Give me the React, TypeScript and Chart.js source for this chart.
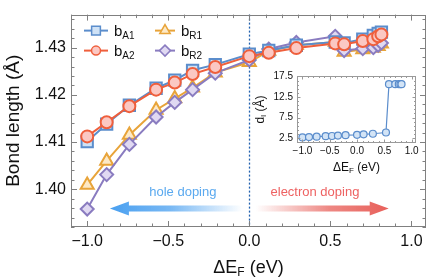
import React, { useEffect, useRef } from 'react';
import { Chart, registerables } from 'chart.js';

Chart.register(...registerables);

const FONT = '"Liberation Sans", Arial, Helvetica, sans-serif';

// ---------- data ----------
const DELTA_EF = [-1.0, -0.88, -0.74, -0.575, -0.46, -0.35, -0.21, 0.0, 0.12, 0.29, 0.53, 0.585, 0.70, 0.765, 0.795, 0.815];
const B_A1 = [1.4101, 1.4138, 1.4178, 1.4214, 1.4231, 1.4252, 1.4264, 1.4286, 1.4294, 1.4305, 1.4312, 1.4310, 1.4318, 1.4326, 1.4330, 1.4333];
const B_A2 = [1.4112, 1.4142, 1.4176, 1.4211, 1.4226, 1.4244, 1.4259, 1.4282, 1.4289, 1.4299, 1.4309, 1.4307, 1.4314, 1.4318, 1.4324, 1.4328];
const B_R1 = [1.4009, 1.4060, 1.4115, 1.4168, 1.4192, 1.4215, 1.4247, 1.4269, 1.4293, 1.4305, 1.4312, 1.4291, 1.4296, 1.4299, 1.4303, 1.4308];
const B_R2 = [1.3958, 1.4031, 1.4095, 1.4153, 1.4184, 1.4211, 1.4246, 1.4274, 1.4297, 1.4311, 1.4324, 1.4294, 1.4298, 1.4300, 1.4305, 1.4310];
const D_I = [2.65, 2.75, 2.85, 2.95, 3.0, 3.1, 3.2, 3.3, 3.4, 3.55, 3.85, 15.6, 15.6, 15.6, 15.6, 15.6];

const X_TICKS = [-1.0, -0.5, 0.0, 0.5, 1.0];
const Y_TICKS = [1.40, 1.41, 1.42, 1.43];
const INSET_X_TICKS = [-1.0, -0.5, 0.0, 0.5, 1.0];
const INSET_Y_TICKS = [2.5, 7.5, 12.5, 17.5];

const SERIES = [
  { key: 'A2', data: B_A2, color: '#ef5f3c', fill: '#fbc8c3', style: 'circle', r: 6 },
  { key: 'A1', data: B_A1, color: '#5b8dcc', fill: '#cfe2f6', style: 'rect', r: 8 },
  { key: 'R2', data: B_R2, color: '#8a7cc0', fill: '#e0d9f2', style: 'rectRot', r: 6.5 },
  { key: 'R1', data: B_R1, color: '#e8a43a', fill: '#fde9c6', style: 'triangle', r: 7.5 },
];

// annotation positions in data units
const HOLE_ARROW = { tail: -0.04, tip: -0.86, y: 1.3959 };
const ELEC_ARROW = { tail: 0.04, tip: 0.86, y: 1.3959 };
const HOLE_LABEL = { x: -0.41, y: 1.3994, text: 'hole doping' };
const ELEC_LABEL = { x: 0.405, y: 1.3994, text: 'electron doping' };

const fmt = (v: number, d: number) => {
  const s = Math.abs(v).toFixed(d);
  return v < -1e-9 ? '\u2212' + s : s;
};

function drawMarker(ctx: CanvasRenderingContext2D, style: string, x: number, y: number, r: number, color: string, fill: string, lw: number) {
  ctx.save();
  ctx.beginPath();
  if (style === 'circle') {
    ctx.arc(x, y, r, 0, Math.PI * 2);
  } else if (style === 'rect') {
    const s = r * Math.SQRT1_2;
    ctx.rect(x - s, y - s, 2 * s, 2 * s);
  } else if (style === 'rectRot') {
    ctx.moveTo(x, y - r); ctx.lineTo(x + r, y); ctx.lineTo(x, y + r); ctx.lineTo(x - r, y); ctx.closePath();
  } else {
    for (let i = 0; i < 3; i++) {
      const a = (i * 2 * Math.PI) / 3;
      const px = x + Math.sin(a) * r, py = y - Math.cos(a) * r;
      if (i === 0) ctx.moveTo(px, py); else ctx.lineTo(px, py);
    }
    ctx.closePath();
  }
  ctx.fillStyle = fill; ctx.fill();
  ctx.lineWidth = lw; ctx.strokeStyle = color; ctx.stroke();
  ctx.restore();
}

function drawSubText(ctx: CanvasRenderingContext2D, parts: { t: string; size: number; dy: number }[], x: number, y: number, align: 'left' | 'center') {
  let total = 0;
  const widths = parts.map(p => { ctx.font = `${p.size}px ${FONT}`; const w = ctx.measureText(p.t).width; total += w; return w; });
  let cx = align === 'center' ? x - total / 2 : x;
  ctx.textAlign = 'left';
  parts.forEach((p, i) => { ctx.font = `${p.size}px ${FONT}`; ctx.fillText(p.t, cx, y + p.dy); cx += widths[i]; });
}

function drawFrameTicks(ctx: CanvasRenderingContext2D, chart: any, xMaj: number[], xMin: number[], yMaj: number[], yMin: number[], maj: number, mn: number, color: string) {
  const a = chart.chartArea; const xs = chart.scales.x; const ys = chart.scales.y;
  ctx.save();
  ctx.strokeStyle = color; ctx.lineWidth = 1;
  ctx.strokeRect(Math.round(a.left) + 0.5, Math.round(a.top) + 0.5, Math.round(a.right - a.left) - 1, Math.round(a.bottom - a.top) - 1);
  ctx.beginPath();
  const xt = (v: number, L: number) => {
    const px = Math.round(xs.getPixelForValue(v)) + 0.5;
    ctx.moveTo(px, a.bottom); ctx.lineTo(px, a.bottom - L);
    ctx.moveTo(px, a.top); ctx.lineTo(px, a.top + L);
  };
  const yt = (v: number, L: number) => {
    const py = Math.round(ys.getPixelForValue(v)) + 0.5;
    ctx.moveTo(a.left, py); ctx.lineTo(a.left + L, py);
    ctx.moveTo(a.right, py); ctx.lineTo(a.right - L, py);
  };
  xMaj.forEach(v => xt(v, maj)); xMin.forEach(v => xt(v, mn));
  yMaj.forEach(v => yt(v, maj)); yMin.forEach(v => yt(v, mn));
  ctx.stroke();
  ctx.restore();
}

function minorList(start: number, end: number, step: number, majors: number[]) {
  const out: number[] = [];
  const n = Math.round((end - start) / step);
  for (let i = 0; i <= n; i++) {
    const v = +(start + i * step).toFixed(6);
    if (!majors.some(m => Math.abs(m - v) < 1e-6)) out.push(v);
  }
  return out;
}

function MainChart() {
  const ref = useRef<HTMLCanvasElement>(null);
  useEffect(() => {
    const xMinor = minorList(-1.1, 1.0, 0.1, X_TICKS);
    const yMinor = minorList(1.392, 1.436, 0.002, Y_TICKS);
    const decor = {
      id: 'mainDecor',
      beforeDatasetsDraw(chart: any) {
        const { ctx, chartArea: a, scales: { x, y } } = chart;
        ctx.save();
        // zero line
        const px = Math.round(x.getPixelForValue(0)) + 0.5;
        ctx.strokeStyle = '#2160ae'; ctx.lineWidth = 1.3; ctx.setLineDash([2, 2]);
        ctx.beginPath(); ctx.moveTo(px, a.top); ctx.lineTo(px, a.bottom); ctx.stroke();
        ctx.setLineDash([]);
        // arrows
        const arrow = (ar: any, rgb: string) => {
          const x0 = x.getPixelForValue(ar.tail), x1 = x.getPixelForValue(ar.tip), yc = y.getPixelForValue(ar.y);
          const s = Math.sign(x1 - x0);
          const hl = 19, hh = 7, sh = 3;
          const g = ctx.createLinearGradient(x0, 0, x1, 0);
          g.addColorStop(0, `rgba(${rgb},0)`);
          g.addColorStop(0.55, `rgba(${rgb},0.75)`);
          g.addColorStop(1, `rgba(${rgb},1)`);
          ctx.beginPath();
          ctx.moveTo(x0, yc - sh);
          ctx.lineTo(x1 - s * hl, yc - sh);
          ctx.lineTo(x1 - s * hl, yc - hh);
          ctx.lineTo(x1, yc);
          ctx.lineTo(x1 - s * hl, yc + hh);
          ctx.lineTo(x1 - s * hl, yc + sh);
          ctx.lineTo(x0, yc + sh);
          ctx.closePath();
          ctx.fillStyle = g; ctx.fill();
        };
        arrow(HOLE_ARROW, '74,160,240');
        arrow(ELEC_ARROW, '232,96,90');
        ctx.font = `13px ${FONT}`; ctx.textAlign = 'center'; ctx.textBaseline = 'middle';
        ctx.fillStyle = '#5aa9ef';
        ctx.fillText(HOLE_LABEL.text, x.getPixelForValue(HOLE_LABEL.x), y.getPixelForValue(HOLE_LABEL.y));
        ctx.fillStyle = '#ee6262';
        ctx.fillText(ELEC_LABEL.text, x.getPixelForValue(ELEC_LABEL.x), y.getPixelForValue(ELEC_LABEL.y));
        ctx.restore();
      },
      afterDraw(chart: any) {
        const { ctx, chartArea: a } = chart;
        drawFrameTicks(ctx, chart, X_TICKS, xMinor, Y_TICKS, yMinor, 6, 3.5, '#808080');
        ctx.save();
        ctx.fillStyle = '#111'; ctx.textBaseline = 'alphabetic';
        // x title
        drawSubText(ctx, [
          { t: '\u0394E', size: 18, dy: 0 }, { t: 'F', size: 12, dy: 3 }, { t: ' (eV)', size: 18, dy: 0 },
        ], (a.left + a.right) / 2, 273, 'center');
        // y title
        ctx.save();
        ctx.translate(19, (a.top + a.bottom) / 2);
        ctx.rotate(-Math.PI / 2);
        ctx.font = `19px ${FONT}`; ctx.textAlign = 'center';
        ctx.fillText('Bond length (\u00c5)', 0, 0);
        ctx.restore();
        // legend
        const legend = [
          { s: SERIES[1], col: 0, row: 0, sub: 'A1' },
          { s: SERIES[0], col: 0, row: 1, sub: 'A2' },
          { s: SERIES[3], col: 1, row: 0, sub: 'R1' },
          { s: SERIES[2], col: 1, row: 1, sub: 'R2' },
        ];
        legend.forEach(l => {
          const lx = a.left + (l.col === 0 ? 13 : 84);
          const len = l.col === 0 ? 24 : 20;
          const ly = a.top + 16 + l.row * 20;
          ctx.strokeStyle = l.s.color; ctx.lineWidth = 2;
          ctx.beginPath(); ctx.moveTo(lx, ly); ctx.lineTo(lx + len, ly); ctx.stroke();
          drawMarker(ctx, l.s.style, lx + len / 2, ly, l.s.style === 'circle' ? 4.5 : l.s.style === 'rect' ? 6.2 : l.s.style === 'triangle' ? 6 : 5.5, l.s.color, l.s.fill, 1.5);
          ctx.fillStyle = '#111';
          drawSubText(ctx, [{ t: 'b', size: 15, dy: 0 }, { t: l.sub, size: 10, dy: 3 }], lx + len + 6, ly + 5, 'left');
        });
        ctx.restore();
      },
    };
    const chart = new Chart(ref.current!, {
      type: 'line',
      data: {
        datasets: SERIES.map(s => ({
          label: 'b' + s.key,
          data: DELTA_EF.map((x, i) => ({ x, y: s.data[i] })),
          borderColor: s.color,
          backgroundColor: s.fill,
          pointBackgroundColor: s.fill,
          pointBorderColor: s.color,
          pointStyle: s.style as any,
          pointRadius: s.r,
          pointBorderWidth: 2,
          borderWidth: 2,
          tension: 0,
          fill: false,
        })),
      },
      options: {
        animation: false,
        responsive: false,
        maintainAspectRatio: false,
        layout: { padding: { top: 4, right: 5, left: 0, bottom: 0 } },
        plugins: { legend: { display: false }, tooltip: { enabled: false } },
        scales: {
          x: {
            type: 'linear', min: -1.1, max: 1.09,
            grid: { display: false, drawTicks: false }, border: { display: false },
            afterBuildTicks: (s: any) => { s.ticks = X_TICKS.map(v => ({ value: v })); },
            afterFit: (s: any) => { s.height = 53; },
            ticks: { font: { family: FONT, size: 16 }, color: '#111', padding: 5, maxRotation: 0, callback: (v: any) => fmt(Number(v), 1) },
          },
          y: {
            type: 'linear', min: 1.392, max: 1.437,
            grid: { display: false, drawTicks: false }, border: { display: false },
            afterBuildTicks: (s: any) => { s.ticks = Y_TICKS.map(v => ({ value: v })); },
            afterFit: (s: any) => { s.width = 71; },
            ticks: { font: { family: FONT, size: 16 }, color: '#111', padding: 5, callback: (v: any) => Number(v).toFixed(2) },
          },
        },
      },
      plugins: [decor],
    });
    return () => chart.destroy();
  }, []);
  return <canvas ref={ref} width={436} height={280} style={{ position: 'absolute', left: 0, top: 0, width: 436, height: 280 }} />;
}

function InsetChart() {
  const ref = useRef<HTMLCanvasElement>(null);
  useEffect(() => {
    const xMinor = minorList(-1.1, 1.0, 0.1, INSET_X_TICKS);
    const yMinor = minorList(1.5, 17.5, 1.0, []);
    const decor = {
      id: 'insetDecor',
      afterDraw(chart: any) {
        const { ctx, chartArea: a } = chart;
        drawFrameTicks(ctx, chart, INSET_X_TICKS, xMinor, INSET_Y_TICKS, yMinor, 3.5, 2, '#9a9a9a');
        ctx.save();
        ctx.fillStyle = '#111'; ctx.textBaseline = 'alphabetic';
        drawSubText(ctx, [
          { t: '\u0394E', size: 12, dy: 0 }, { t: 'F', size: 8, dy: 2 }, { t: ' (eV)', size: 12, dy: 0 },
        ], (a.left + a.right) / 2, 105, 'center');
        ctx.save();
        ctx.translate(19, (a.top + a.bottom) / 2);
        ctx.rotate(-Math.PI / 2);
        const parts = [{ t: 'd', size: 12, dy: 0 }, { t: 'I', size: 8, dy: 2 }, { t: ' (\u00c5)', size: 12, dy: 0 }];
        drawSubText(ctx, parts, 0, 0, 'center');
        ctx.restore();
        ctx.restore();
      },
    };
    const chart = new Chart(ref.current!, {
      type: 'line',
      data: {
        datasets: [{
          label: 'dI',
          data: DELTA_EF.map((x, i) => ({ x, y: D_I[i] })),
          borderColor: '#5b8dcc',
          backgroundColor: '#d3e4f6',
          pointBackgroundColor: '#d3e4f6',
          pointBorderColor: '#5b8dcc',
          pointRadius: 3.5,
          pointBorderWidth: 1.2,
          borderWidth: 1.2,
          tension: 0,
          fill: false,
        }],
      },
      options: {
        animation: false,
        responsive: false,
        maintainAspectRatio: false,
        layout: { padding: { top: 6, right: 9, left: 0, bottom: 0 } },
        plugins: { legend: { display: false }, tooltip: { enabled: false } },
        scales: {
          x: {
            type: 'linear', min: -1.1, max: 1.08,
            grid: { display: false, drawTicks: false }, border: { display: false },
            afterBuildTicks: (s: any) => { s.ticks = INSET_X_TICKS.map(v => ({ value: v })); },
            afterFit: (s: any) => { s.height = 35; },
            ticks: { font: { family: FONT, size: 10 }, color: '#111', padding: 2, maxRotation: 0, callback: (v: any) => fmt(Number(v), 1) },
          },
          y: {
            type: 'linear', min: 1.3, max: 17.6,
            grid: { display: false, drawTicks: false }, border: { display: false },
            afterBuildTicks: (s: any) => { s.ticks = INSET_Y_TICKS.map(v => ({ value: v })); },
            afterFit: (s: any) => { s.width = 52; },
            ticks: { font: { family: FONT, size: 10 }, color: '#111', padding: 4, callback: (v: any) => Number(v).toFixed(1) },
          },
        },
      },
      plugins: [decor],
    });
    return () => chart.destroy();
  }, []);
  return <canvas ref={ref} width={180} height={112} style={{ position: 'absolute', left: 245, top: 66, width: 180, height: 112 }} />;
}

export default function App() {
  return (
    <div style={{ position: 'fixed', left: 0, top: 0, width: 436, height: 280, background: '#fff', overflow: 'hidden' }}>
      <MainChart />
      <InsetChart />
    </div>
  );
}
